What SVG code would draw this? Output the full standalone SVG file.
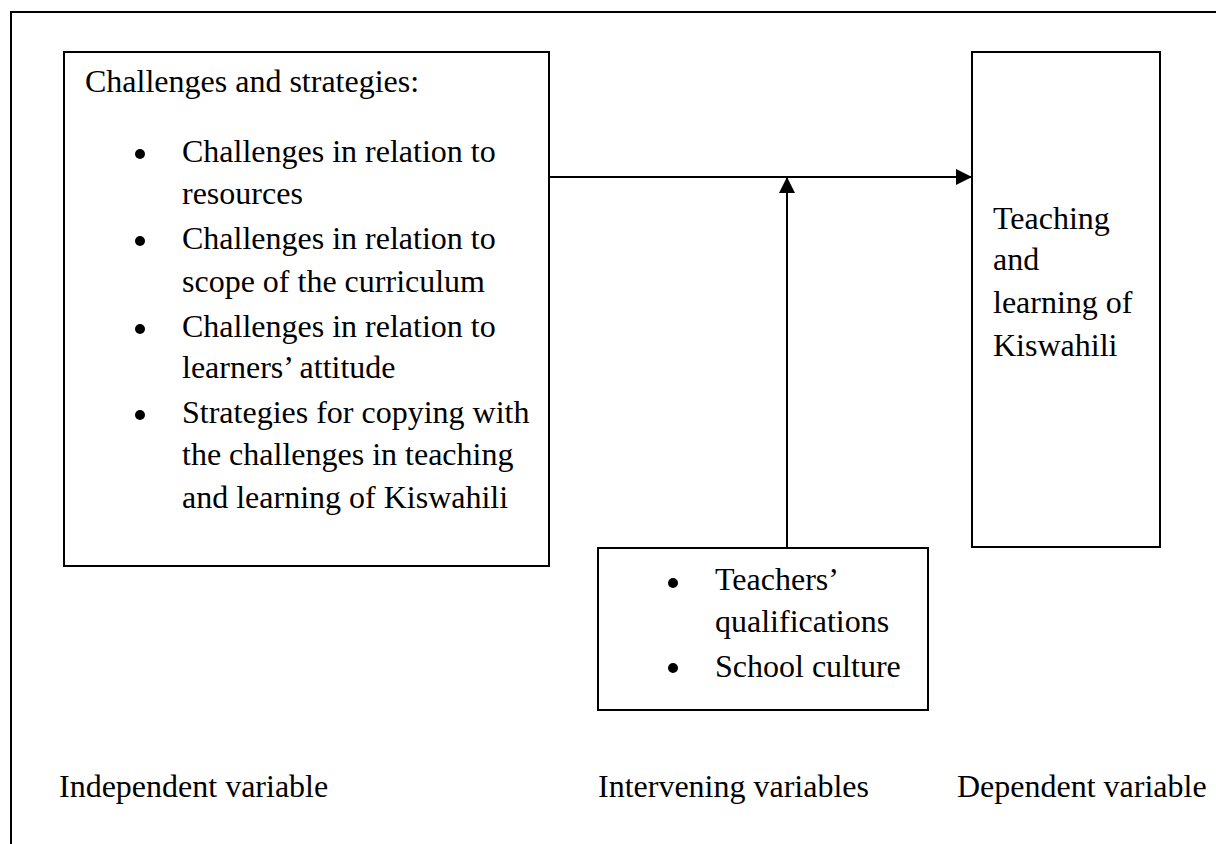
<svg xmlns="http://www.w3.org/2000/svg" width="1216" height="844" viewBox="0 0 1216 844">
  <style>
    .box { fill: #ffffff; stroke: #000000; stroke-width: 2; }
    .frame { fill: none; stroke: #000000; stroke-width: 2; }
    .conn { fill: none; stroke: #000000; stroke-width: 2; }
    text { font-family: "Liberation Serif", "Times New Roman", serif; font-size: 32px; fill: #000000; }
    .dot { fill: #000000; }
  </style>
  <defs>
    <marker id="arrow" markerWidth="16" markerHeight="16" refX="15" refY="8" orient="auto" markerUnits="userSpaceOnUse">
      <path d="M0,0 L16,8 L0,16 Z" fill="#000000"/>
    </marker>
  </defs>

  <rect width="1216" height="844" fill="#ffffff"/>

  <!-- surrounding frame (open towards right and bottom) -->
  <path class="frame" d="M11,844 V12 H1216"/>

  <!-- independent variable -->
  <g id="independent">
    <rect class="box" x="64" y="52" width="485" height="514"/>
    <text x="85" y="92">Challenges and strategies:</text>
    <circle class="dot" cx="140" cy="154" r="5"/>
    <text x="182" y="162">Challenges in relation to</text>
    <text x="182" y="204">resources</text>
    <circle class="dot" cx="140" cy="241" r="5"/>
    <text x="182" y="249">Challenges in relation to</text>
    <text x="182" y="292">scope of the curriculum</text>
    <circle class="dot" cx="140" cy="329" r="5"/>
    <text x="182" y="337">Challenges in relation to</text>
    <text x="182" y="378">learners’ attitude</text>
    <circle class="dot" cx="140" cy="415" r="5"/>
    <text x="182" y="423">Strategies for copying with</text>
    <text x="182" y="465">the challenges in teaching</text>
    <text x="182" y="508">and learning of Kiswahili</text>
  </g>

  <!-- dependent variable -->
  <g id="dependent">
    <rect class="box" x="972" y="52" width="188" height="495"/>
    <text x="993" y="229">Teaching</text>
    <text x="993" y="270">and</text>
    <text x="993" y="313">learning of</text>
    <text x="993" y="356">Kiswahili</text>
  </g>

  <!-- intervening variables -->
  <g id="intervening">
    <rect class="box" x="598" y="548" width="330" height="162"/>
    <circle class="dot" cx="673" cy="583" r="5"/>
    <text x="715" y="590">Teachers’</text>
    <text x="715" y="632">qualifications</text>
    <circle class="dot" cx="673" cy="668" r="5"/>
    <text x="715" y="677">School culture</text>
  </g>

  <!-- connectors -->
  <g id="connectors">
    <line class="conn" x1="549" y1="177" x2="971" y2="177" marker-end="url(#arrow)"/>
    <line class="conn" x1="787" y1="548" x2="787" y2="178" marker-end="url(#arrow)"/>
  </g>

  <!-- column captions -->
  <g id="captions">
    <text x="59" y="797">Independent variable</text>
    <text x="598" y="797">Intervening variables</text>
    <text x="957" y="797">Dependent variable</text>
  </g>
</svg>
